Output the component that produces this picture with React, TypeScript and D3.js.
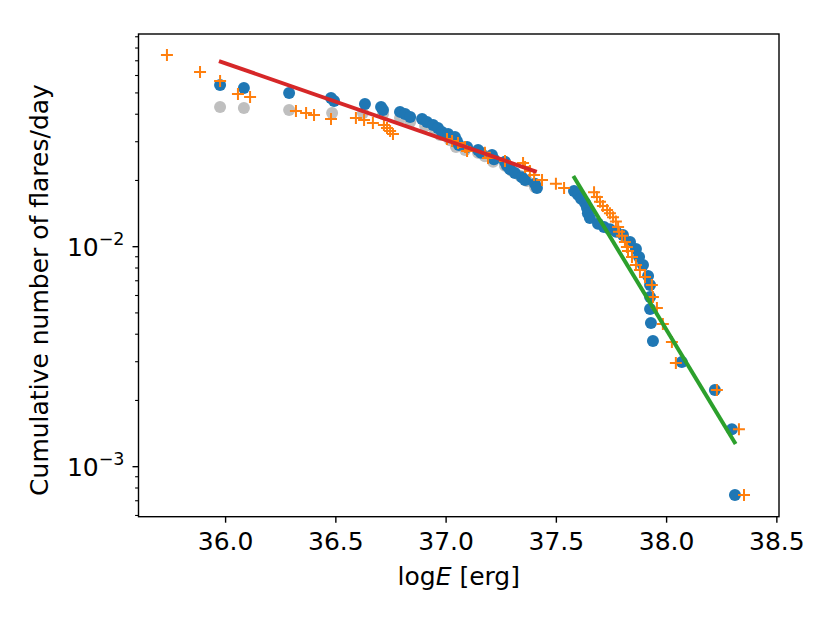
import * as d3 from "d3";
import { useEffect, useRef } from "react";

// log E [erg] and cumulative rate (flares/day)
const grayE = [35.975, 36.083, 36.288, 36.483, 36.623, 36.714, 36.791, 36.837, 36.905, 36.95, 36.973, 37.018, 37.045, 37.086, 37.145, 37.176, 37.213, 37.267, 37.299, 37.335, 37.367, 37.403];
const grayN = [0.0431, 0.0427, 0.0418, 0.0405, 0.0405, 0.0401, 0.0385, 0.0369, 0.0354, 0.0336, 0.0322, 0.0305, 0.0284, 0.0275, 0.0267, 0.0258, 0.0243, 0.0233, 0.0221, 0.021, 0.0199, 0.0187];

const blueE = [
  35.975, 36.083, 36.288, 36.478, 36.492, 36.632, 36.705, 36.714, 36.791, 36.814, 36.837, 36.891, 36.913, 36.941, 36.963,
  36.981, 37.009, 37.04, 37.049, 37.058, 37.095, 37.145, 37.158, 37.208, 37.217, 37.267, 37.276, 37.29, 37.312, 37.344,
  37.358, 37.403, 37.412, 37.58, 37.598, 37.612, 37.63, 37.639, 37.643, 37.652, 37.689, 37.716, 37.743, 37.771, 37.802,
  37.834, 37.861, 37.875, 37.893, 37.916, 37.925, 37.925, 37.925, 37.929, 37.938, 38.069, 38.219, 38.296, 38.31,
];
const blueN = [
  0.0543, 0.0526, 0.05, 0.0474, 0.046, 0.0445, 0.0431, 0.0418, 0.041, 0.0401, 0.0389, 0.0381, 0.0369, 0.0357, 0.0346,
  0.0332, 0.0325, 0.0315, 0.0302, 0.029, 0.0284, 0.0275, 0.0267, 0.0261, 0.025, 0.0243, 0.0233, 0.0225, 0.0216, 0.0207,
  0.0201, 0.0193, 0.0185, 0.0179, 0.0172, 0.0165, 0.0158, 0.015, 0.0142, 0.0135, 0.0127, 0.0123, 0.012, 0.0117, 0.0113,
  0.0105, 0.00976, 0.00898, 0.00826, 0.00736, 0.0067, 0.00591, 0.00521, 0.0045, 0.00373, 0.00299, 0.00223, 0.00148, 0.000744,
];

const orangeE = [
  35.734, 35.884, 35.975, 36.056, 36.111, 36.319, 36.365, 36.401, 36.478, 36.591, 36.628, 36.668, 36.718, 36.732, 36.746,
  36.759, 37.004, 37.027, 37.054, 37.086, 37.095, 37.176, 37.19, 37.267, 37.349, 37.358, 37.38, 37.399, 37.435, 37.498,
  37.535, 37.671, 37.684, 37.698, 37.711, 37.73, 37.743, 37.757, 37.77, 37.78, 37.784, 37.798, 37.811, 37.82, 37.825,
  37.843, 37.861, 37.879, 37.902, 37.933, 37.938, 37.956, 37.983, 38.024, 38.042, 38.228, 38.328, 38.351,
];
const orangeN = [
  0.0744, 0.0622, 0.0566, 0.0494, 0.0479, 0.0414, 0.0405, 0.0397, 0.0381, 0.0385, 0.0377, 0.0365, 0.0357, 0.0346, 0.0336,
  0.0325, 0.0309, 0.0302, 0.0296, 0.0284, 0.0272, 0.0267, 0.0253, 0.0245, 0.024, 0.023, 0.0221, 0.0212, 0.0201, 0.0193,
  0.0185, 0.0177, 0.0168, 0.016, 0.0153, 0.0147, 0.0142, 0.0136, 0.013, 0.0123, 0.0117, 0.0112, 0.0105, 0.00997, 0.00956,
  0.00898, 0.00826, 0.00784, 0.00728, 0.0067, 0.00591, 0.00527, 0.00445, 0.00369, 0.00296, 0.00223, 0.00148, 0.000744,
];

// power-law fits (end points)
const redFitE = [35.97, 37.411];
const redFitN = [0.0698, 0.0219];
const greenFitE = [37.577, 38.313];
const greenFitN = [0.02094, 0.001268];

const xTicks = [36.0, 36.5, 37.0, 37.5, 38.0, 38.5];
const yMajor = [-3, -2];

export default function App() {
  const ref = useRef<SVGSVGElement>(null);

  useEffect(() => {
    if (!ref.current) return;
    document.body.style.margin = "0";
    const svg = d3.select(ref.current);
    svg.selectAll("*").remove();

    const W = 830, H = 623;
    const L = 138.5, R = 779, T = 34, B = 516.7;
    const font = "DejaVu Sans, sans-serif";

    const x = d3.scaleLinear().domain([35.605, 38.5097]).range([L, R]);
    const y = d3.scaleLog().domain([Math.pow(10, -3.2274), Math.pow(10, -1.0332)]).range([B, T]);

    svg.attr("width", W).attr("height", H).attr("viewBox", `0 0 ${W} ${H}`);
    svg.append("rect").attr("width", W).attr("height", H).attr("fill", "white");

    const plot = svg.append("g");

    plot
      .selectAll(".gray")
      .data(d3.range(grayE.length))
      .join("circle")
      .attr("cx", i => x(grayE[i]))
      .attr("cy", i => y(grayN[i]))
      .attr("r", 6)
      .attr("fill", "#bfbfbf");

    plot
      .selectAll(".blue")
      .data(d3.range(blueE.length))
      .join("circle")
      .attr("cx", i => x(blueE[i]))
      .attr("cy", i => y(blueN[i]))
      .attr("r", 6)
      .attr("fill", "#1f77b4");

    const s = 6;
    plot
      .selectAll(".orange")
      .data(d3.range(orangeE.length))
      .join("path")
      .attr("d", i => {
        const cx = x(orangeE[i]), cy = y(orangeN[i]);
        return `M${cx - s},${cy}H${cx + s}M${cx},${cy - s}V${cy + s}`;
      })
      .attr("stroke", "#ff7f0e")
      .attr("stroke-width", 2)
      .attr("fill", "none");

    const line = d3
      .line<number>()
      .x(d => d[0])
      .y(d => d[1]);
    const fit = (es: number[], ns: number[]) => line(es.map((e, i) => [x(e), y(ns[i])]) as any);

    plot.append("path").attr("d", fit(redFitE, redFitN)).attr("stroke", "#d62728").attr("stroke-width", 4).attr("fill", "none");
    plot.append("path").attr("d", fit(greenFitE, greenFitN)).attr("stroke", "#2ca02c").attr("stroke-width", 4).attr("fill", "none");

    // frame
    svg.append("rect").attr("x", L).attr("y", T).attr("width", R - L).attr("height", B - T).attr("fill", "none").attr("stroke", "black").attr("stroke-width", 1.4);

    // x ticks
    const xg = svg.append("g");
    xTicks.forEach(t => {
      xg.append("line").attr("x1", x(t)).attr("x2", x(t)).attr("y1", B).attr("y2", B + 6).attr("stroke", "black").attr("stroke-width", 1.4);
      xg.append("text")
        .attr("x", x(t))
        .attr("y", B + 33)
        .attr("text-anchor", "middle")
        .attr("font-family", font)
        .attr("font-size", 25)
        .text(d3.format(".1f")(t));
    });

    // y ticks
    const yg = svg.append("g");
    const [lo, hi] = y.domain();
    for (let p = -4; p <= -1; p++) {
      for (let m = 1; m <= 9; m++) {
        const v = m * Math.pow(10, p);
        if (v < lo || v > hi) continue;
        const len = m === 1 ? 6 : 3.4;
        yg.append("line").attr("x1", L - len).attr("x2", L).attr("y1", y(v)).attr("y2", y(v)).attr("stroke", "black").attr("stroke-width", m === 1 ? 1.4 : 1.1);
      }
    }
    yMajor.forEach(p => {
      const t = yg
        .append("text")
        .attr("x", L - 14)
        .attr("y", y(Math.pow(10, p)) + 9.5)
        .attr("text-anchor", "end")
        .attr("font-family", font)
        .attr("font-size", 25);
      t.append("tspan").text("10");
      t.append("tspan").attr("dy", -11).attr("font-size", 17.5).text(`\u2212${-p}`);
    });

    // axis labels
    const xl = svg
      .append("text")
      .attr("x", (L + R) / 2)
      .attr("y", 585)
      .attr("text-anchor", "middle")
      .attr("font-family", font)
      .attr("font-size", 25);
    xl.append("tspan").text("log");
    xl.append("tspan").attr("font-style", "italic").text("E");
    xl.append("tspan").text(" [erg]");

    svg
      .append("text")
      .attr("transform", `translate(48,290) rotate(-90)`)
      .attr("text-anchor", "middle")
      .attr("font-family", font)
      .attr("font-size", 25)
      .text("Cumulative number of flares/day");
  }, []);

  return <svg ref={ref} style={{ display: "block" }} />;
}
